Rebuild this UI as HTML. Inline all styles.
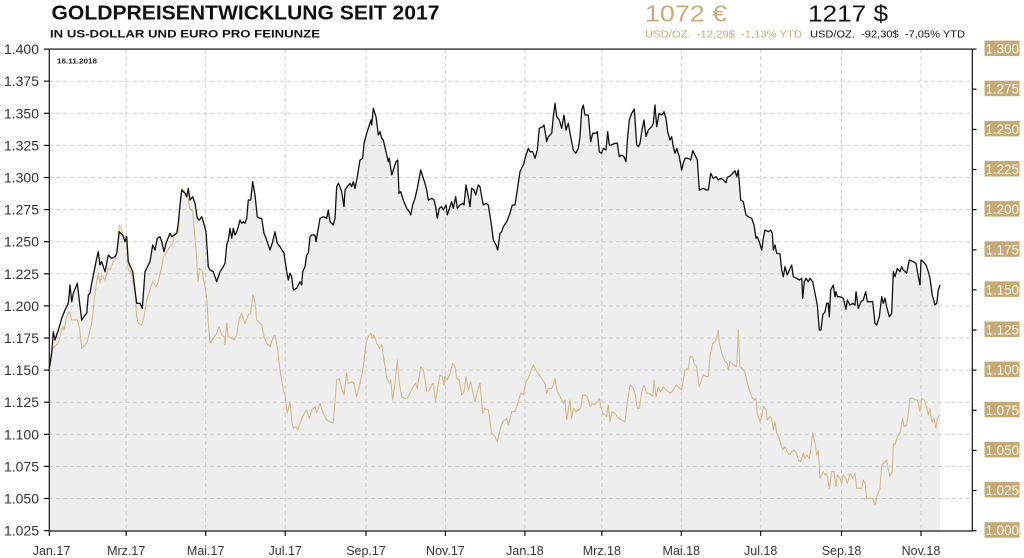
<!DOCTYPE html>
<html><head><meta charset="utf-8"><style>
html,body{margin:0;padding:0;background:#fff;}
svg{display:block;}
text{font-family:"Liberation Sans",sans-serif;}
</style></head><body>
<svg width="1024" height="558" viewBox="0 0 1024 558" xmlns="http://www.w3.org/2000/svg">
<!-- header -->
<text x="51.5" y="19.5" font-size="20" font-weight="bold" fill="#111" textLength="388" lengthAdjust="spacingAndGlyphs">GOLDPREISENTWICKLUNG SEIT 2017</text>
<text x="50" y="37.5" font-size="11" font-weight="bold" fill="#111" textLength="270" lengthAdjust="spacingAndGlyphs">IN US-DOLLAR UND EURO PRO FEINUNZE</text>
<text x="645" y="21.5" font-size="23" fill="#c6ad78" textLength="82" lengthAdjust="spacingAndGlyphs">1072 €</text>
<text x="645" y="37.5" font-size="10" fill="#c6ad78" textLength="157" lengthAdjust="spacingAndGlyphs" xml:space="preserve">USD/OZ.  -12,29$  -1,13% YTD</text>
<text x="808" y="21.5" font-size="23" fill="#111" textLength="80" lengthAdjust="spacingAndGlyphs">1217 $</text>
<text x="810" y="37.5" font-size="10" fill="#111" textLength="155" lengthAdjust="spacingAndGlyphs" xml:space="preserve">USD/OZ.  -92,30$  -7,05% YTD</text>

<!-- fill -->
<polygon fill="#eeeeee" points="49.3,531 49.3,368.3 51.7,353.3 53.3,331.7 55,340 58.3,330 61.7,318.3 65,310 68.3,303.3 70,285 71.7,301.7 73.3,293.3 77.3,283.3 81.7,320 85,315 86.7,313.3 88.3,295 90,293.3 91.7,283.3 95,266.7 96.7,258.3 98.3,251.7 100,265 101.7,261.7 105,271.7 108.3,255 111.7,258.3 115,256.7 116.7,253.3 119.3,231.7 122.7,235 125,241.7 126.7,236.7 128.3,261.7 132.7,271.7 135,290 136.7,303.3 140,303.3 142.3,308.3 145,271.7 148.3,265 150,261.7 152.7,245 155,250 157.3,238.3 160,236.7 161.7,241.7 164,251.7 166,243.3 170,233.3 171.7,236.7 176.7,233.3 178.3,223.3 180,205 181.7,190 185,193.3 186.7,196.7 188.3,188.3 190,200 192.7,196.7 195,203.3 197.3,218.3 199.3,220 201.7,216.7 203.3,221.7 206,231.7 208.3,266.7 210,270 213.3,271.7 216.7,281.7 220,271.7 223.3,266.7 225,263.3 226.7,245 228.3,240 230,228.3 231.7,238.3 233.3,228.3 235,235 236.7,231.7 238.3,226.7 240,220 241.7,223.3 243.3,221.7 245,223.3 246.7,218.3 248.3,200 250.7,200 252.7,181.7 255,195 257.3,216.7 260,218.3 261.7,218.3 264,233.3 266.7,240 270,250 272.7,241.7 275,231.7 277.3,243.3 280,246.7 284,253.3 286.7,271.7 288.3,280 290,273.3 291.7,276.7 293.3,290 296.7,288.3 298.3,285 300,281.7 301.7,285 302.7,271.7 305,266.7 306.7,255 308.3,253.3 310,236.7 311.7,235 315,235 316,241.7 318.3,228.3 320,218.3 323.3,216.7 326.7,218.3 328.3,210 330,221.7 333.3,225 335,218.3 336.7,186.7 338.3,183.3 340,186.7 341.7,191.7 344,206.7 345,190 347.3,186.7 350,183.3 351.7,186.7 353.3,181.7 355,188.3 357.3,176.7 360,160 362.7,158.3 364,143.3 366.7,133.3 368.3,128.3 371,120 371.7,125 373.3,108.3 376,116.7 377.3,126.7 378.3,135 380,131.7 381.7,138.3 383.3,140 386,151.7 388.3,161.7 389.3,158.3 391.7,175 393.3,170 396,161.7 397.7,160 399,193.3 400.7,191.7 403.3,200 406.7,208.3 409.3,211.7 410.7,215 412.7,205 415,198.3 417.3,188.3 420.7,170 423.3,178.3 425,183.3 426.7,190 428.3,200 431.7,198.3 434,200 435.7,206.7 437.3,218.3 439.3,208.3 441.7,206.7 443.3,210 446,205 447.3,215 450,206.7 451.7,201.7 453.3,208.3 455.7,196.7 457.3,208.3 460,205 462.7,203.3 464,205 466,185 468.3,196.7 470,206.7 471.7,188.3 474,190 475.7,195 478.3,185 480,186.7 481.7,196.7 483.3,205 486,203.3 488.3,205 491.7,226.7 493.3,240 496,245 497.7,250 500,233.3 501.7,231.7 503.3,226.7 506.7,221.7 510,213.3 512.3,205 515,205 517.3,190 520,171.7 523.3,165 526,155 528.3,148.3 530,151.7 532.7,151.7 535,158.3 537.3,150 539.3,128.3 542.7,126.7 544,125 546.7,141.7 548.3,136.7 551.7,133.3 553.3,116.7 555,103.3 556.7,116.7 559.3,120 561.7,128.3 564,115 566,130 568.3,123.3 570.7,136.7 573.3,150 575.7,153.3 578.3,148.3 580,136.7 581.7,110 583.3,105 585,115 588.3,115 590.7,141.7 592.7,133.3 596,133.3 597.3,131.7 599.3,151.7 601.7,153.3 603.3,148.3 606,150 607.7,131.7 609.3,145 611,145 615,143.3 617.3,143.3 619.3,156.7 621.7,155 624,156.7 626,161.7 627.7,136.7 629.3,120 631.7,113.3 634.3,109 636.7,145 638.3,146.7 640,143.3 641.7,131.7 644,120 646,136.7 648.3,130 651.7,126.7 653.3,123.3 655,105 656.7,126.7 659,113.3 661.7,115 664,111.7 666,118.3 667.7,131.7 670,140 671.7,136.7 673.3,146.7 675,153.3 676.7,148.3 679.3,156.7 681.7,170 683.3,163.3 685,158.3 688.3,158.3 690.7,160 692.7,150.7 695,155 697.3,160 699.3,190 703.3,188.3 706.7,190 708.3,190 710.7,173.3 713.3,178.3 716,176.7 718.3,180 720.7,178.3 723.3,180 726,182.7 727.3,177.3 730,176 732.7,173.3 735,170.7 736.7,176.7 738.3,170 740.7,200 743.3,201.7 746,215 748.3,216.7 751.7,218.3 754,225 756,238.3 757.3,236.7 759.3,241.7 761.7,250 763.3,238.3 765,230 768.3,231.7 770.7,230 772.3,233.3 773.3,250 775,245 776.7,253.3 780,254 781.7,270 783.3,276.7 785,266.7 787.3,275 789.3,270 791.7,265 793.3,276.7 796.7,278.3 799.3,280 801.7,278.3 802.7,298.3 804.3,281.7 806,278.3 808.3,281.7 810,278.3 812.7,281.7 815,293.3 817.3,305 819.3,330 821,330 822.7,315 825,311.7 826.7,303.3 828.3,303.3 829.3,316.7 830.7,290 833.3,285 835,296.7 836,291.7 837.3,296.7 840,296.7 843.3,298.3 846,309.3 847.3,300 850,305 852.7,303.3 855,305 856,291.7 858.3,308.3 861,301.7 863.3,300 865.7,291.7 867.3,301.7 870,301.7 872.7,301.7 875,323.3 876.7,325 879.3,316.7 881.7,296.7 883.3,303.3 885,298.3 886.7,306.7 889.3,316.7 891.7,313.3 893.3,271.7 895,276.7 897.3,268.3 900,271.7 901.7,266.7 903.3,270 906.7,273.3 909.3,260 913.3,261.7 916,263.3 918.3,276.7 920,285 921,260 923.3,261.7 926,265 928.3,271.7 930,278.3 932.3,295 935,305 936.7,303.3 938.3,290 940,285 940,531"/>

<!-- grid -->
<g stroke="#cfcfcf" stroke-width="1" stroke-dasharray="4,3" fill="none">
<line x1="49" y1="81.2" x2="972" y2="81.2"/>
<line x1="49" y1="113.3" x2="972" y2="113.3"/>
<line x1="49" y1="145.4" x2="972" y2="145.4"/>
<line x1="49" y1="177.5" x2="972" y2="177.5"/>
<line x1="49" y1="209.6" x2="972" y2="209.6"/>
<line x1="49" y1="241.7" x2="972" y2="241.7"/>
<line x1="49" y1="273.8" x2="972" y2="273.8"/>
<line x1="49" y1="305.9" x2="972" y2="305.9"/>
<line x1="49" y1="338" x2="972" y2="338"/>
<line x1="49" y1="370.1" x2="972" y2="370.1"/>
<line x1="49" y1="402.2" x2="972" y2="402.2"/>
<line x1="49" y1="434.3" x2="972" y2="434.3"/>
<line x1="49" y1="466.4" x2="972" y2="466.4"/>
<line x1="49" y1="498.5" x2="972" y2="498.5"/>
<line x1="126.2" y1="49" x2="126.2" y2="531"/>
<line x1="205.7" y1="49" x2="205.7" y2="531"/>
<line x1="285.2" y1="49" x2="285.2" y2="531"/>
<line x1="366" y1="49" x2="366" y2="531"/>
<line x1="445.4" y1="49" x2="445.4" y2="531"/>
<line x1="524.9" y1="49" x2="524.9" y2="531"/>
<line x1="601.8" y1="49" x2="601.8" y2="531"/>
<line x1="681.3" y1="49" x2="681.3" y2="531"/>
<line x1="760.7" y1="49" x2="760.7" y2="531"/>
<line x1="841.5" y1="49" x2="841.5" y2="531"/>
<line x1="921" y1="49" x2="921" y2="531"/>
</g>

<!-- gold line -->
<polyline fill="none" stroke="#d3bc8b" stroke-width="1.1" stroke-linejoin="round" points="49.3,368.3 51.7,350 54,346.7 58.3,343.3 60.7,333.3 62.7,326.7 64,330 66.7,316.7 69.3,311.7 71.7,320 75,320 77.3,320 79.3,326.7 81.7,348.3 85,345 87.3,341.7 90,330 91.7,323.3 93.3,310 95,293.3 96.7,281.7 98.3,273.3 100,283.3 101.7,275 105,280 108.3,268.3 110,270 113.3,261.7 115,260 116.7,253.3 119.3,225 121.7,230 124,238.3 126,235 128.3,270 131.7,273.3 135,293.3 136.7,316.7 138.3,323.3 141.7,325 144,316.7 146.7,300 150,290 152.7,281.7 156,286.7 158.3,281.7 161.7,266.7 163.3,256.7 166,253.3 170,246.7 172.7,243.3 175,233.3 178.3,231.7 180,203.3 181.7,188.3 185,191.7 187.7,196.7 190,208.3 192.7,211.7 194,226.7 196,250 198,281.7 199.3,268.3 202,270 204,281.7 206.7,296.7 208.3,323.3 210,343.3 213.3,338.3 216.7,333.3 219,326.7 221.7,335 224.3,336.7 225,345 226.7,323.3 228.3,336.7 231.7,338.3 234,340 236.7,335 239.3,318.3 241.7,313.3 245,323.3 248.3,315 250.7,313.3 252.7,295 255,301.7 256.7,320 260,323.3 261.7,325 264,336.7 266.7,343.3 270,346.7 273.3,336.7 275,335 277.3,346.7 280,370 283.3,390 285,395 287.3,413.3 290,401.7 291.7,420 293.3,428.3 296,426.7 297.7,430 300,423.3 303.3,415 306.7,410 309.3,418.3 311.7,410 315,406.7 316.7,413.3 320,403.3 323.3,413.3 326.7,420 330,421.7 333.3,423.3 336.7,380 339.3,378.3 341.7,388.3 344,395 346.7,373.3 348.3,383.3 351.7,381.7 354,383.3 356.7,396.7 360,383.3 363.3,366.7 366,343.3 368.3,336.7 370.7,333.3 372.7,338.3 374,335 376.7,343.3 379.3,348.3 381.7,345 384,360 386.7,378.3 389.3,383.3 390.7,380 392.7,400 395,383.3 397.3,360 399.3,383.3 401.7,396.7 405,398.3 407.3,398.3 410,393.3 413.3,386.7 415.7,383.3 417.3,388.3 420.7,366.7 423.3,370 425,380 426.7,391.7 429.3,390 431.7,385 433.3,383.3 435.7,401.7 437.7,388.3 440,375 442.3,376.7 444,385 445,376.7 447.3,380 450,373.3 452.7,363.3 455,366.7 456.7,378.3 459.3,380 461.7,395 464,391.7 466,376.7 468.3,390 470.7,381.7 472.7,391.7 475,401.7 477.3,391.7 480,383.3 482.7,413.3 485,408.3 488.3,410 491.7,433.3 495,436.7 497.3,441.7 500,430 502.7,421.7 506.7,418.3 508.3,425 511.7,411.7 515,411.7 518.3,401.7 520.7,393.3 523.3,395 526,381.7 528.3,378.3 530.7,371.7 533.3,365 536,370 539.3,375 542.7,380 545,383.3 546.7,393.3 548.3,388.3 551.7,388.3 553.3,385 555,378.3 557.3,391.7 560,396.7 563.3,403.3 565,400 566.7,420 568.3,410 570,400 571.7,418.3 573.3,408.3 576,411.7 578.3,410 580.7,408.3 582.7,395 585,395 587.3,396.7 590,406.7 592.7,403.3 595,405 597.3,401.7 599.3,398.3 600.7,406.7 602.7,413.3 605,415 606.7,416.7 608.3,405 610,421.7 611.7,411.7 615,413.3 618.3,418.3 621.7,420 625,421.7 626.7,406.7 628.3,396.7 630,385 633.3,388.3 635,393.3 637.3,408.3 639.3,408.3 641.7,391.7 644,385 646.7,393.3 649.3,393.3 651.7,395 652.7,396.7 654,380 656,396.7 658.3,386.7 660.7,391.7 663.3,386.7 666,390 668.3,391.7 670.7,393.3 673.3,390 676,385 678.3,386.7 680,388.3 681.7,390 683.3,380 685,370 688.3,368.3 690,356.7 692.7,356.7 694,363.3 696.7,366.7 699,386.7 700.7,383.3 703.3,375 706.7,376.7 708.3,376.7 710,356.7 712.7,343.3 715,341.7 716.7,338.3 718.3,330 719.3,343.3 721.7,353.3 725,361.7 727.3,363.3 728.3,370 730,361.7 733.3,365 736.7,366.7 738.3,330 740,366.7 744,370 746,376.7 748.3,386.7 751.7,396.7 754,400 756,398.3 757.3,413.3 760,421.7 761.7,416.7 763.3,406.7 766,410 767.3,420 770,416.7 771.7,418.3 773.3,430 775,421.7 776.7,433.3 779.3,438.3 781.7,446.7 782.7,450 785,446.7 787.3,451.7 790,455 791.7,451.7 794,450 796.7,453.3 798.3,460 800.7,461.7 803.3,453.3 805,458.3 806.7,455 809.3,458.3 810.7,450 812.7,433.3 815,443.3 816.7,455 818.3,450 820,478.3 821.7,475 823.3,471.7 825,475 826.7,473.3 829.3,488.3 831.7,471.7 834,471.7 836,486.7 837.3,475 840,478.3 841.7,483.3 843.3,475 846,478.3 847.3,483.3 850,473.3 852.7,478.3 855,473.3 856.7,488.3 861.7,488.3 863.3,480 865,483.3 866.7,498.3 870,498.3 872.7,498.3 875,505 877.3,495 880,488.3 881.7,465 885,461.7 886.7,460 888.3,470 890,476.7 892.3,471.7 893.3,443.3 895,445 897.3,436.7 900,433.3 902.7,418.3 904,426.7 906.7,425 908.3,413.3 910,398.3 912.7,398.3 915,400 917.3,400 920,411.7 921.7,398.3 924.3,400 926.7,406.7 928.3,415 930,408.3 931.7,421.7 934,418.3 936,428.3 937.3,418.3 940,415"/>

<!-- black line -->
<polyline fill="none" stroke="#111" stroke-width="1.3" stroke-linejoin="round" points="49.3,368.3 51.7,353.3 53.3,331.7 55,340 58.3,330 61.7,318.3 65,310 68.3,303.3 70,285 71.7,301.7 73.3,293.3 77.3,283.3 81.7,320 85,315 86.7,313.3 88.3,295 90,293.3 91.7,283.3 95,266.7 96.7,258.3 98.3,251.7 100,265 101.7,261.7 105,271.7 108.3,255 111.7,258.3 115,256.7 116.7,253.3 119.3,231.7 122.7,235 125,241.7 126.7,236.7 128.3,261.7 132.7,271.7 135,290 136.7,303.3 140,303.3 142.3,308.3 145,271.7 148.3,265 150,261.7 152.7,245 155,250 157.3,238.3 160,236.7 161.7,241.7 164,251.7 166,243.3 170,233.3 171.7,236.7 176.7,233.3 178.3,223.3 180,205 181.7,190 185,193.3 186.7,196.7 188.3,188.3 190,200 192.7,196.7 195,203.3 197.3,218.3 199.3,220 201.7,216.7 203.3,221.7 206,231.7 208.3,266.7 210,270 213.3,271.7 216.7,281.7 220,271.7 223.3,266.7 225,263.3 226.7,245 228.3,240 230,228.3 231.7,238.3 233.3,228.3 235,235 236.7,231.7 238.3,226.7 240,220 241.7,223.3 243.3,221.7 245,223.3 246.7,218.3 248.3,200 250.7,200 252.7,181.7 255,195 257.3,216.7 260,218.3 261.7,218.3 264,233.3 266.7,240 270,250 272.7,241.7 275,231.7 277.3,243.3 280,246.7 284,253.3 286.7,271.7 288.3,280 290,273.3 291.7,276.7 293.3,290 296.7,288.3 298.3,285 300,281.7 301.7,285 302.7,271.7 305,266.7 306.7,255 308.3,253.3 310,236.7 311.7,235 315,235 316,241.7 318.3,228.3 320,218.3 323.3,216.7 326.7,218.3 328.3,210 330,221.7 333.3,225 335,218.3 336.7,186.7 338.3,183.3 340,186.7 341.7,191.7 344,206.7 345,190 347.3,186.7 350,183.3 351.7,186.7 353.3,181.7 355,188.3 357.3,176.7 360,160 362.7,158.3 364,143.3 366.7,133.3 368.3,128.3 371,120 371.7,125 373.3,108.3 376,116.7 377.3,126.7 378.3,135 380,131.7 381.7,138.3 383.3,140 386,151.7 388.3,161.7 389.3,158.3 391.7,175 393.3,170 396,161.7 397.7,160 399,193.3 400.7,191.7 403.3,200 406.7,208.3 409.3,211.7 410.7,215 412.7,205 415,198.3 417.3,188.3 420.7,170 423.3,178.3 425,183.3 426.7,190 428.3,200 431.7,198.3 434,200 435.7,206.7 437.3,218.3 439.3,208.3 441.7,206.7 443.3,210 446,205 447.3,215 450,206.7 451.7,201.7 453.3,208.3 455.7,196.7 457.3,208.3 460,205 462.7,203.3 464,205 466,185 468.3,196.7 470,206.7 471.7,188.3 474,190 475.7,195 478.3,185 480,186.7 481.7,196.7 483.3,205 486,203.3 488.3,205 491.7,226.7 493.3,240 496,245 497.7,250 500,233.3 501.7,231.7 503.3,226.7 506.7,221.7 510,213.3 512.3,205 515,205 517.3,190 520,171.7 523.3,165 526,155 528.3,148.3 530,151.7 532.7,151.7 535,158.3 537.3,150 539.3,128.3 542.7,126.7 544,125 546.7,141.7 548.3,136.7 551.7,133.3 553.3,116.7 555,103.3 556.7,116.7 559.3,120 561.7,128.3 564,115 566,130 568.3,123.3 570.7,136.7 573.3,150 575.7,153.3 578.3,148.3 580,136.7 581.7,110 583.3,105 585,115 588.3,115 590.7,141.7 592.7,133.3 596,133.3 597.3,131.7 599.3,151.7 601.7,153.3 603.3,148.3 606,150 607.7,131.7 609.3,145 611,145 615,143.3 617.3,143.3 619.3,156.7 621.7,155 624,156.7 626,161.7 627.7,136.7 629.3,120 631.7,113.3 634.3,109 636.7,145 638.3,146.7 640,143.3 641.7,131.7 644,120 646,136.7 648.3,130 651.7,126.7 653.3,123.3 655,105 656.7,126.7 659,113.3 661.7,115 664,111.7 666,118.3 667.7,131.7 670,140 671.7,136.7 673.3,146.7 675,153.3 676.7,148.3 679.3,156.7 681.7,170 683.3,163.3 685,158.3 688.3,158.3 690.7,160 692.7,150.7 695,155 697.3,160 699.3,190 703.3,188.3 706.7,190 708.3,190 710.7,173.3 713.3,178.3 716,176.7 718.3,180 720.7,178.3 723.3,180 726,182.7 727.3,177.3 730,176 732.7,173.3 735,170.7 736.7,176.7 738.3,170 740.7,200 743.3,201.7 746,215 748.3,216.7 751.7,218.3 754,225 756,238.3 757.3,236.7 759.3,241.7 761.7,250 763.3,238.3 765,230 768.3,231.7 770.7,230 772.3,233.3 773.3,250 775,245 776.7,253.3 780,254 781.7,270 783.3,276.7 785,266.7 787.3,275 789.3,270 791.7,265 793.3,276.7 796.7,278.3 799.3,280 801.7,278.3 802.7,298.3 804.3,281.7 806,278.3 808.3,281.7 810,278.3 812.7,281.7 815,293.3 817.3,305 819.3,330 821,330 822.7,315 825,311.7 826.7,303.3 828.3,303.3 829.3,316.7 830.7,290 833.3,285 835,296.7 836,291.7 837.3,296.7 840,296.7 843.3,298.3 846,309.3 847.3,300 850,305 852.7,303.3 855,305 856,291.7 858.3,308.3 861,301.7 863.3,300 865.7,291.7 867.3,301.7 870,301.7 872.7,301.7 875,323.3 876.7,325 879.3,316.7 881.7,296.7 883.3,303.3 885,298.3 886.7,306.7 889.3,316.7 891.7,313.3 893.3,271.7 895,276.7 897.3,268.3 900,271.7 901.7,266.7 903.3,270 906.7,273.3 909.3,260 913.3,261.7 916,263.3 918.3,276.7 920,285 921,260 923.3,261.7 926,265 928.3,271.7 930,278.3 932.3,295 935,305 936.7,303.3 938.3,290 940,285"/>

<!-- frame -->
<rect x="49.3" y="49.1" width="923" height="481.9" fill="none" stroke="#111" stroke-width="1.2"/>

<!-- left ticks -->
<g stroke="#111" stroke-width="1.2">
<line x1="44" y1="49.1" x2="49" y2="49.1"/><line x1="44" y1="81.2" x2="49" y2="81.2"/><line x1="44" y1="113.3" x2="49" y2="113.3"/><line x1="44" y1="145.4" x2="49" y2="145.4"/><line x1="44" y1="177.5" x2="49" y2="177.5"/><line x1="44" y1="209.6" x2="49" y2="209.6"/><line x1="44" y1="241.7" x2="49" y2="241.7"/><line x1="44" y1="273.8" x2="49" y2="273.8"/><line x1="44" y1="305.9" x2="49" y2="305.9"/><line x1="44" y1="338" x2="49" y2="338"/><line x1="44" y1="370.1" x2="49" y2="370.1"/><line x1="44" y1="402.2" x2="49" y2="402.2"/><line x1="44" y1="434.3" x2="49" y2="434.3"/><line x1="44" y1="466.4" x2="49" y2="466.4"/><line x1="44" y1="498.5" x2="49" y2="498.5"/><line x1="44" y1="530.6" x2="49" y2="530.6"/>
<!-- right ticks -->
<line x1="972" y1="49.1" x2="976.5" y2="49.1"/><line x1="972" y1="89.2" x2="976.5" y2="89.2"/><line x1="972" y1="129.4" x2="976.5" y2="129.4"/><line x1="972" y1="169.5" x2="976.5" y2="169.5"/><line x1="972" y1="209.6" x2="976.5" y2="209.6"/><line x1="972" y1="249.8" x2="976.5" y2="249.8"/><line x1="972" y1="289.9" x2="976.5" y2="289.9"/><line x1="972" y1="330" x2="976.5" y2="330"/><line x1="972" y1="370.1" x2="976.5" y2="370.1"/><line x1="972" y1="410.3" x2="976.5" y2="410.3"/><line x1="972" y1="450.4" x2="976.5" y2="450.4"/><line x1="972" y1="490.5" x2="976.5" y2="490.5"/><line x1="972" y1="530.7" x2="976.5" y2="530.7"/>
<!-- bottom ticks -->
<line x1="49.3" y1="531" x2="49.3" y2="536"/><line x1="126.2" y1="531" x2="126.2" y2="536"/><line x1="205.7" y1="531" x2="205.7" y2="536"/><line x1="285.2" y1="531" x2="285.2" y2="536"/><line x1="366" y1="531" x2="366" y2="536"/><line x1="445.4" y1="531" x2="445.4" y2="536"/><line x1="524.9" y1="531" x2="524.9" y2="536"/><line x1="601.8" y1="531" x2="601.8" y2="536"/><line x1="681.3" y1="531" x2="681.3" y2="536"/><line x1="760.7" y1="531" x2="760.7" y2="536"/><line x1="841.5" y1="531" x2="841.5" y2="536"/><line x1="921" y1="531" x2="921" y2="536"/>
</g>

<!-- date -->
<text x="57" y="63.5" font-size="7" font-weight="bold" fill="#222" textLength="40" lengthAdjust="spacingAndGlyphs">16.11.2018</text>

<!-- left labels -->
<g font-size="14" fill="#333" text-anchor="end">
<text x="39" y="54.1">1.400</text><text x="39" y="86.2">1.375</text><text x="39" y="118.3">1.350</text><text x="39" y="150.4">1.325</text><text x="39" y="182.5">1.300</text><text x="39" y="214.6">1.275</text><text x="39" y="246.7">1.250</text><text x="39" y="278.8">1.225</text><text x="39" y="310.9">1.200</text><text x="39" y="343">1.175</text><text x="39" y="375.1">1.150</text><text x="39" y="407.2">1.125</text><text x="39" y="439.3">1.100</text><text x="39" y="471.4">1.075</text><text x="39" y="503.5">1.050</text><text x="39" y="535.6">1.025</text>
</g>

<!-- right labels -->
<g fill="#c4aa76">
<rect x="984.5" y="40.6" width="35" height="15.5"/><rect x="984.5" y="80.7" width="35" height="15.5"/><rect x="984.5" y="120.9" width="35" height="15.5"/><rect x="984.5" y="161" width="35" height="15.5"/><rect x="984.5" y="201.1" width="35" height="15.5"/><rect x="984.5" y="241.3" width="35" height="15.5"/><rect x="984.5" y="281.4" width="35" height="15.5"/><rect x="984.5" y="321.5" width="35" height="15.5"/><rect x="984.5" y="361.6" width="35" height="15.5"/><rect x="984.5" y="401.8" width="35" height="15.5"/><rect x="984.5" y="441.9" width="35" height="15.5"/><rect x="984.5" y="482" width="35" height="15.5"/><rect x="984.5" y="522.2" width="35" height="15.5"/>
</g>
<g font-size="14" fill="#f7f3ea">
<text x="985.5" y="53.6" textLength="33.5" lengthAdjust="spacingAndGlyphs">1.300</text>
<text x="985.5" y="93.7" textLength="33.5" lengthAdjust="spacingAndGlyphs">1.275</text>
<text x="985.5" y="133.9" textLength="33.5" lengthAdjust="spacingAndGlyphs">1.250</text>
<text x="985.5" y="174" textLength="33.5" lengthAdjust="spacingAndGlyphs">1.225</text>
<text x="985.5" y="214.1" textLength="33.5" lengthAdjust="spacingAndGlyphs">1.200</text>
<text x="985.5" y="254.3" textLength="33.5" lengthAdjust="spacingAndGlyphs">1.175</text>
<text x="985.5" y="294.4" textLength="33.5" lengthAdjust="spacingAndGlyphs">1.150</text>
<text x="985.5" y="334.5" textLength="33.5" lengthAdjust="spacingAndGlyphs">1.125</text>
<text x="985.5" y="374.6" textLength="33.5" lengthAdjust="spacingAndGlyphs">1.100</text>
<text x="985.5" y="414.8" textLength="33.5" lengthAdjust="spacingAndGlyphs">1.075</text>
<text x="985.5" y="454.9" textLength="33.5" lengthAdjust="spacingAndGlyphs">1.050</text>
<text x="985.5" y="495" textLength="33.5" lengthAdjust="spacingAndGlyphs">1.025</text>
<text x="985.5" y="535.2" textLength="33.5" lengthAdjust="spacingAndGlyphs">1.000</text>
</g>

<!-- x labels -->
<g font-size="12.5" fill="#333" text-anchor="middle">
<text x="51.5" y="555">Jan.17</text><text x="126.2" y="555">Mrz.17</text><text x="205.7" y="555">Mai.17</text><text x="285.2" y="555">Jul.17</text><text x="366" y="555">Sep.17</text><text x="445.4" y="555">Nov.17</text><text x="524.9" y="555">Jan.18</text><text x="601.8" y="555">Mrz.18</text><text x="681.3" y="555">Mai.18</text><text x="760.7" y="555">Jul.18</text><text x="841.5" y="555">Sep.18</text><text x="921" y="555">Nov.18</text>
</g>
</svg>
</body></html>
